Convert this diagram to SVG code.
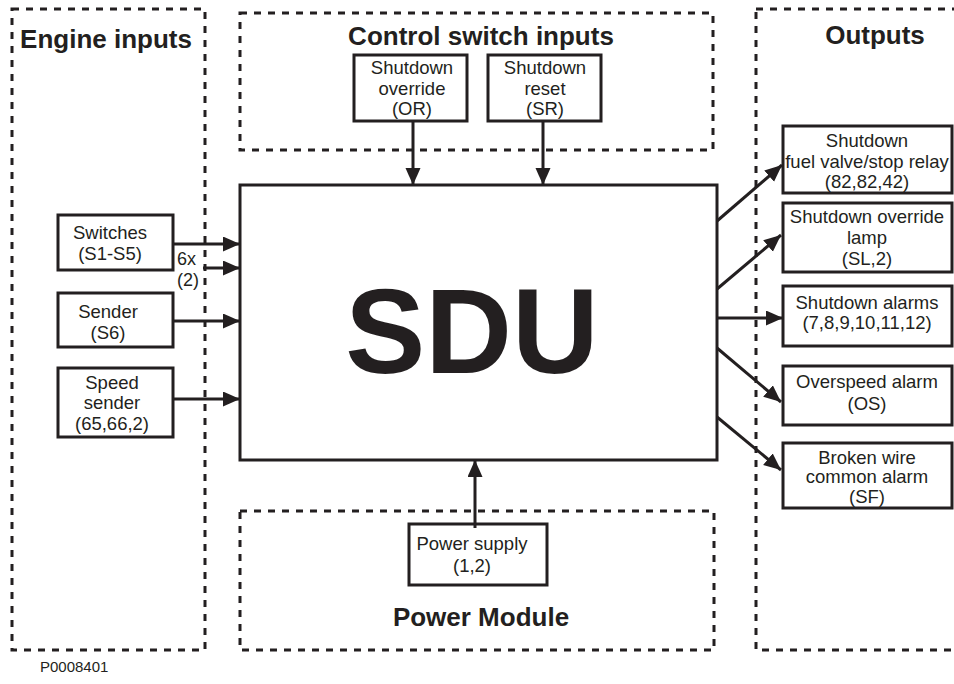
<svg xmlns="http://www.w3.org/2000/svg" width="954" height="684" viewBox="0 0 954 684">
<style>
.grp{fill:none;stroke:#231f20;stroke-width:3;stroke-dasharray:7 7}
.box{fill:#fff;stroke:#231f20;stroke-width:3}
.lbl{font-family:"Liberation Sans",Arial,sans-serif;font-size:18.5px;fill:#231f20;text-anchor:middle}
.ttl{font-family:"Liberation Sans",Arial,sans-serif;font-size:26px;font-weight:bold;fill:#231f20;text-anchor:middle}
.con{stroke:#231f20;stroke-width:3;fill:none;marker-end:url(#ah)}
</style>
<defs>
<marker id="ah" markerUnits="userSpaceOnUse" markerWidth="18" markerHeight="16" refX="17" refY="7.5" orient="auto">
<path d="M0,0 L17,7.5 L0,15 z" fill="#231f20"/>
</marker>
</defs>
<rect width="954" height="684" fill="#fff"/>
<g id="groups">
<rect class="grp" x="12" y="9" width="193" height="641"/>
<rect class="grp" x="240" y="13" width="473" height="137"/>
<rect class="grp" x="756" y="9" width="260" height="641"/>
<rect class="grp" x="240" y="511" width="474" height="139"/>
<text class="ttl" x="106" y="48">Engine inputs</text>
<text class="ttl" x="481" y="45">Control switch inputs</text>
<text class="ttl" x="875" y="44">Outputs</text>
<text class="ttl" x="481" y="626">Power Module</text>
</g>
<g id="sdu">
<rect class="box" x="240" y="185" width="477" height="275"/>
<text x="472" y="373" font-family="Liberation Sans,Arial,sans-serif" font-size="120" font-weight="bold" fill="#231f20" text-anchor="middle">SDU</text>
</g>
<g id="or">
<rect class="box" x="354" y="55" width="113" height="66"/>
<text class="lbl" x="412" y="74">Shutdown</text>
<text class="lbl" x="412" y="95">override</text>
<text class="lbl" x="412" y="115">(OR)</text>
</g>
<g id="sr">
<rect class="box" x="488" y="55" width="113" height="66"/>
<text class="lbl" x="545" y="74">Shutdown</text>
<text class="lbl" x="545" y="95">reset</text>
<text class="lbl" x="545" y="115">(SR)</text>
</g>
<g id="switches">
<rect class="box" x="58" y="215" width="115" height="55"/>
<text class="lbl" x="110" y="239">Switches</text>
<text class="lbl" x="110" y="260">(S1-S5)</text>
</g>
<g id="sender">
<rect class="box" x="58" y="293" width="115" height="54"/>
<text class="lbl" x="108" y="318">Sender</text>
<text class="lbl" x="108" y="339">(S6)</text>
</g>
<g id="speed">
<rect class="box" x="58" y="368" width="115" height="69"/>
<text class="lbl" x="112" y="389">Speed</text>
<text class="lbl" x="112" y="409">sender</text>
<text class="lbl" x="112" y="430">(65,66,2)</text>
</g>
<g id="power">
<rect class="box" x="409" y="524" width="138" height="61"/>
<text class="lbl" x="472" y="550">Power supply</text>
<text class="lbl" x="472" y="572">(1,2)</text>
</g>
<g id="out1">
<rect class="box" x="783" y="126" width="169" height="67"/>
<text class="lbl" x="867" y="147">Shutdown</text>
<text class="lbl" x="867" y="168">fuel valve/stop relay</text>
<text class="lbl" x="867" y="188">(82,82,42)</text>
</g>
<g id="out2">
<rect class="box" x="783" y="203" width="169" height="69"/>
<text class="lbl" x="867" y="223">Shutdown override</text>
<text class="lbl" x="867" y="244">lamp</text>
<text class="lbl" x="867" y="265">(SL,2)</text>
</g>
<g id="out3">
<rect class="box" x="783" y="286" width="169" height="60"/>
<text class="lbl" x="867" y="309">Shutdown alarms</text>
<text class="lbl" x="867" y="329">(7,8,9,10,11,12)</text>
</g>
<g id="out4">
<rect class="box" x="783" y="366" width="169" height="59"/>
<text class="lbl" x="867" y="388">Overspeed alarm</text>
<text class="lbl" x="867" y="410">(OS)</text>
</g>
<g id="out5">
<rect class="box" x="783" y="443" width="169" height="65"/>
<text class="lbl" x="867" y="464">Broken wire</text>
<text class="lbl" x="867" y="483">common alarm</text>
<text class="lbl" x="867" y="503">(SF)</text>
</g>
<g id="connectors">
<line class="con" x1="413" y1="121" x2="413" y2="185"/>
<line class="con" x1="543" y1="121" x2="543" y2="185"/>
<line class="con" x1="475" y1="528" x2="475" y2="460"/>
<line class="con" x1="173" y1="244" x2="240" y2="244"/>
<line class="con" x1="203" y1="268" x2="240" y2="268"/>
<line class="con" x1="173" y1="321" x2="240" y2="321"/>
<line class="con" x1="173" y1="399" x2="240" y2="399"/>
<line class="con" x1="717" y1="221" x2="782" y2="165"/>
<line class="con" x1="717" y1="289" x2="781" y2="235"/>
<line class="con" x1="717" y1="318" x2="783" y2="318"/>
<line class="con" x1="717" y1="348" x2="781" y2="402"/>
<line class="con" x1="717" y1="417" x2="781" y2="470"/>
<text x="177" y="265" font-family="Liberation Sans,Arial,sans-serif" font-size="18" fill="#231f20">6x</text>
<text x="177" y="286" font-family="Liberation Sans,Arial,sans-serif" font-size="18" fill="#231f20">(2)</text>
</g>
<text x="40" y="672" font-family="Liberation Sans,Arial,sans-serif" font-size="15" fill="#231f20">P0008401</text>
</svg>
